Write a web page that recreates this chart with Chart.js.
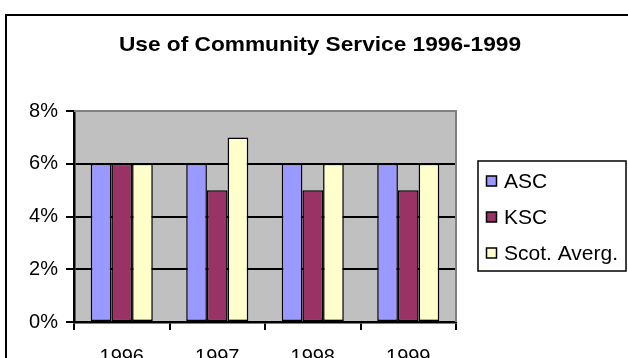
<!DOCTYPE html>
<html>
<head>
<meta charset="utf-8">
<title>Use of Community Service 1996-1999</title>
<script src="https://cdn.jsdelivr.net/npm/chart.js@4/dist/chart.umd.min.js"></script>
<style>
  html, body { margin: 0; padding: 0; background: #ffffff; overflow: hidden; }
  #wrap { width: 628px; height: 358px; position: relative; }
</style>
</head>
<body>
<div id="wrap"><canvas id="chart" width="628" height="358"></canvas></div>
<script>
// Data
const years = ['1996', '1997', '1998', '1999'];
const ascValues = [6, 6, 6, 6];
const kscValues = [6, 5, 5, 5];
const scotAvgValues = [6, 7, 6, 6];
const seriesNames = ['ASC', 'KSC', 'Scot. Averg.'];
const yTicks = [0, 2, 4, 6, 8];
const chartTitle = 'Use of Community Service 1996-1999';

const FONT = '"Liberation Sans", Arial, Helvetica, sans-serif';
const colors = ['#9999FF', '#993366', '#FFFFCC'];

// Grey plot background, outer frame and title
const framePlugin = {
  id: 'frame',
  beforeDraw(chart) {
    const { ctx, chartArea: a } = chart;
    ctx.save();
    ctx.fillStyle = '#ffffff';
    ctx.fillRect(0, 0, chart.width, chart.height);
    ctx.fillStyle = '#C0C0C0';
    ctx.fillRect(a.left, a.top, a.right - a.left, a.bottom - a.top);
    ctx.restore();
  },
  afterDraw(chart) {
    const { ctx, chartArea: a } = chart;
    ctx.save();
    // outer chart frame
    ctx.strokeStyle = '#000000';
    ctx.lineWidth = 2;
    ctx.strokeRect(6, 15, chart.width + 20, chart.height + 20);
    // plot frame: grey top and right edges
    ctx.strokeStyle = '#808080';
    ctx.lineWidth = 2;
    ctx.beginPath();
    ctx.moveTo(a.left, a.top);
    ctx.lineTo(a.right, a.top);
    ctx.lineTo(a.right, a.bottom);
    ctx.stroke();
    // chart title, slightly widened glyphs
    ctx.fillStyle = '#000000';
    ctx.font = 'bold 21px ' + FONT;
    ctx.textAlign = 'center';
    ctx.textBaseline = 'middle';
    ctx.translate(320, 45.5);
    ctx.scale(1.08, 1);
    ctx.fillText(chartTitle, 0, 0);
    ctx.restore();
  }
};

// Boxed legend to the right of the plot
const boxLegendPlugin = {
  id: 'boxLegend',
  afterDraw(chart) {
    const { ctx } = chart;
    const x0 = 478, y0 = 161, w = 148, h = 110;
    ctx.save();
    ctx.fillStyle = '#ffffff';
    ctx.fillRect(x0, y0, w, h);
    ctx.strokeStyle = '#000000';
    ctx.lineWidth = 1.5;
    ctx.strokeRect(x0, y0, w, h);
    ctx.font = '21px ' + FONT;
    ctx.textAlign = 'left';
    ctx.textBaseline = 'middle';
    chart.data.datasets.forEach((ds, i) => {
      const cy = 181 + i * 36;
      ctx.fillStyle = ds.backgroundColor;
      ctx.fillRect(486.5, cy - 5, 10, 10);
      ctx.strokeStyle = '#000000';
      ctx.lineWidth = 1.5;
      ctx.strokeRect(486.5, cy - 5, 10, 10);
      ctx.fillStyle = '#000000';
      ctx.fillText(ds.label, 504, cy + 1);
    });
    ctx.restore();
  }
};

const datasets = [ascValues, kscValues, scotAvgValues].map((vals, i) => ({
  label: seriesNames[i],
  data: vals,
  backgroundColor: colors[i],
  borderColor: '#000000',
  borderWidth: 1.5,
  borderSkipped: false,
  categoryPercentage: 0.65,
  barPercentage: 1.0
}));

new Chart(document.getElementById('chart'), {
  type: 'bar',
  data: { labels: years, datasets },
  options: {
    responsive: false,
    animation: false,
    devicePixelRatio: 1,
    layout: { padding: { top: 111, right: 172, left: 0, bottom: 0 } },
    plugins: {
      legend: { display: false },
      title: { display: false },
      tooltip: { enabled: false }
    },
    scales: {
      x: {
        afterFit(scale) { scale.height = 36; },
        grid: {
          offset: true,
          drawOnChartArea: false,
          drawTicks: true,
          tickLength: 8,
          color: '#000000',
          lineWidth: 2
        },
        border: { display: true, color: '#000000', width: 2.5 },
        ticks: {
          color: '#000000',
          font: { family: FONT, size: 20 },
          padding: 15,
          maxRotation: 0
        }
      },
      y: {
        min: yTicks[0],
        max: yTicks[yTicks.length - 1],
        afterFit(scale) { scale.width = 74; },
        afterBuildTicks(scale) { scale.ticks = yTicks.map(v => ({ value: v })); },
        grid: {
          drawTicks: true,
          tickLength: 8,
          color: ctx => (ctx.tick && ctx.tick.value === yTicks[yTicks.length - 1]) ? 'rgba(0,0,0,0)' : '#000000',
          tickColor: '#000000',
          lineWidth: 2
        },
        border: { display: true, color: '#000000', width: 2.5 },
        ticks: {
          color: '#000000',
          font: { family: FONT, size: 20 },
          padding: 8,
          callback: v => v + '%'
        }
      }
    }
  },
  plugins: [framePlugin, boxLegendPlugin]
});
</script>
</body>
</html>
